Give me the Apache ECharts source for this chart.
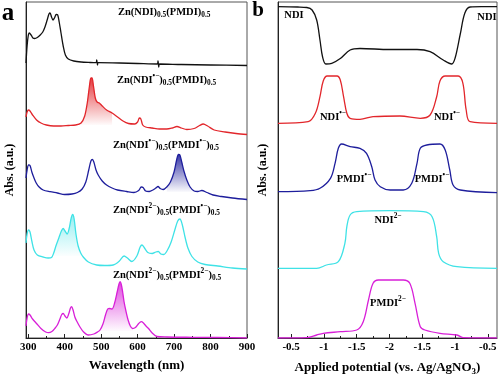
<!DOCTYPE html>
<html><head><meta charset="utf-8">
<script src="https://cdn.jsdelivr.net/npm/echarts@6/dist/echarts.min.js"></script>
<style>html,body{margin:0;padding:0;background:#fff}#c{width:500px;height:375px}</style>
</head><body><div id="c"></div>
<script>
// ---------- tick values / labels ----------
const wavelengthTicks = [300, 400, 500, 600, 700, 800, 900];
const wavelengthMinorTicks = [350, 450, 550, 650, 750, 850];
const potentialTickPos = [0, 0.5, 1, 1.5, 2, 2.5, 3];          // distance swept (V) along the cycle
const potentialTickLabels = ['-0.5', '-1', '-1.5', '-2', '-1.5', '-1', '-0.5'];
const potentialMinorTicks = [0.25, 0.75, 1.25, 1.75, 2.25, 2.75];

// ---------- panel a: stacked spectra [wavelength nm, Abs (a.u., offset)] ----------
const specNeutral = [[294,275],[297,292],[300,302],[303,305],[308,303],[313,300],[318,299.5],[325,300.5],[333,303],[340,306],[346,311],[352,318],[357,324],[360,325],[364,321],[368,318],[372,320],[377,323.5],[381,323],[385,316],[390,305],[396,292],[402,283],[410,279],[425,277],[445,276],[470,275.5],[486,275.3],[488,278],[490,273],[492,275.3],[550,275],[600,274.5],[654,274],[656,277],[658,271],[660,274],[720,273.5],[800,273],[900,272.5]];
const specNDIrad = [[294,221],[297,226],[301,228],[305,227],[312,223],[323,218],[335,215],[350,213],[370,212],[390,212],[410,212.5],[430,213],[445,215],[455,222],[462,235],[468,252],[472,260],[475,260],[479,252],[484,240],[489,236],[495,235],[503,232],[515,228],[530,225],[545,221],[560,217],[575,214.5],[592,214],[600,216],[605,220],[609,219],[614,213],[622,211],[640,210],[660,209],[680,209],[695,210],[708,211.5],[720,210],[735,208.5],[755,209.5],[770,212.5],[780,214],[792,212],[810,208],[840,206],[870,204.5],[900,203.5]];
const specBothRad = [[294,160],[297,168],[301,173],[305,172.5],[310,166],[315,161],[322,155],[330,151],[341,148],[360,146.3],[380,145],[400,143.5],[420,144],[435,145.5],[448,149],[458,156],[466,168],[472,177],[476,178.5],[480,176],[486,168],[492,163],[503,157],[515,153],[530,150],[545,148],[570,146.5],[590,145.5],[603,147.5],[610,151],[615,150.5],[622,147],[632,146.5],[642,148],[650,150],[656,151.5],[662,149.5],[670,148.5],[680,151],[690,156],[700,166],[707,178],[712,183.5],[716,183],[721,176],[727,167],[735,158],[744,151],[755,147],[765,146.5],[776,147.5],[790,145.5],[807,143],[830,141.5],[860,140],[900,138.5]];
const specNDI2PMDIrad = [[294,95],[297,104],[301,108],[305,106],[310,97],[316,88],[325,83],[341,81],[355,80],[364,80.5],[370,85],[376,92],[384,100],[391,107],[396,109.5],[401,107],[407,104],[412,109],[418,120],[422,123.5],[426,119],[431,104],[437,92],[444,85],[451,81],[465,76],[488,73],[510,72.5],[533,73],[550,77],[563,82],[572,80],[584,76.5],[598,82],[607,91],[612,93],[618,90.5],[628,85.5],[640,84.5],[650,86],[657,86.5],[664,84],[672,83.5],[682,88],[692,96],[702,108],[710,117],[716,119],[722,114],[730,101],[738,90],[749,81.5],[765,76],[785,73.5],[820,72],[860,70],[900,69]];
const specBoth2 = [[294,12],[297,20],[301,24],[305,23],[312,19],[323,14.5],[335,9.5],[348,6],[356,5.3],[365,6.5],[374,10],[380,13],[387,19],[392,23.5],[396,24.5],[401,22],[406,20],[411,24],[416,30],[419,31.3],[423,28],[428,21],[433,17],[442,11],[452,6],[465,3],[480,4],[490,6],[497,8],[505,14],[512,23],[518,29],[524,29.5],[530,29],[537,35],[544,46],[549,54],[552,56.3],[555,54],[559,46],[563,36],[568,27],[574,18],[580,12],[586,9.5],[594,10.5],[603,14.5],[610,16.3],[616,15],[623,12],[630,9.5],[640,5],[653,1.5],[680,1],[750,0.7],[820,0.5],[900,0]];

// shaded bands under characteristic peaks: [from nm, to nm, base Abs]
const bandNDIrad = [445, 530, 213];
const bandBothRad = [680, 760, 146];
const bandNDI2 = [370, 444, 82];
const bandPMDI2 = [497, 586, 7];

// ---------- panel b: absorbance vs swept potential [sweep V, Abs (a.u., offset)] ----------
const potNDI = [[-0.2,331.3],[0.1,331],[0.24,330.5],[0.32,328],[0.39,318],[0.44,298],[0.48,281],[0.53,274],[0.62,274.7],[0.75,279.5],[0.9,288],[1.05,289.5],[1.5,288.5],[1.92,288.5],[2.12,286.3],[2.32,278],[2.45,274],[2.5,279.7],[2.58,304],[2.65,325],[2.73,331],[2.9,331.3],[3.14,331.3]];
const potNDIrad = [[-0.2,214.7],[0.26,216.3],[0.37,224.7],[0.44,241.3],[0.49,257],[0.55,262],[0.7,262],[0.75,258],[0.8,241.3],[0.85,224.7],[0.9,219.7],[1.05,218.7],[1.25,221.3],[1.66,222],[1.97,219.7],[2.12,223],[2.22,241.3],[2.27,257],[2.35,262],[2.55,262],[2.62,254.7],[2.67,228],[2.73,216.3],[3.14,214.7]];
const potPMDIrad = [[-0.2,146.3],[0.29,147.3],[0.44,149.7],[0.6,159.7],[0.67,174.7],[0.72,189.7],[0.77,194],[0.9,191.3],[1.05,189.7],[1.15,184.7],[1.23,171.3],[1.28,158],[1.36,151.3],[1.51,148],[1.71,148],[1.84,154.7],[1.92,174.7],[1.97,189.7],[2.07,193],[2.27,194],[2.35,188],[2.42,168],[2.47,153],[2.58,148],[3.14,145.3]];
const potNDI2 = [[-0.2,69.7],[0.39,69.7],[0.54,73],[0.72,76.3],[0.82,94.7],[0.85,111.3],[0.9,123],[1.0,126.3],[1.51,127.3],[2.02,126.3],[2.15,121.3],[2.22,101.3],[2.25,84.7],[2.32,76.3],[2.53,71.3],[3.14,69.7]];
const potPMDI2 = [[-0.2,0],[0.24,0.3],[0.39,3],[0.49,4.7],[0.75,6.3],[1.0,8],[1.1,16.3],[1.18,38],[1.25,54.7],[1.33,58],[1.71,58],[1.81,54.7],[1.89,34.7],[1.97,11.3],[2.04,8],[2.27,4.7],[2.53,3],[2.63,0.3],[3.14,0]];

// ---------- styling ----------
const COL = { black: '#111111', red: '#e2262b', blue: '#1e1e9c', cyan: '#3fe2e6', magenta: '#d81fd8', pm: '#2424c8' };
const FF = '"Liberation Serif", "DejaVu Serif", serif';

function rgba(hex, a) {
  const n = parseInt(hex.slice(1), 16);
  return 'rgba(' + (n >> 16 & 255) + ',' + (n >> 8 & 255) + ',' + (n & 255) + ',' + a + ')';
}
function lineSeries(data, color, xi, yi, smooth) {
  return { type: 'line', xAxisIndex: xi, yAxisIndex: yi, data: data, smooth: smooth, symbol: 'none',
    lineStyle: { color: color, width: 1.3 }, z: 3, silent: true };
}
function bandSeries(data, band, color, xi, yi, alpha) {
  const part = data.filter(p => p[0] >= band[0] && p[0] <= band[1]);
  return { type: 'line', xAxisIndex: xi, yAxisIndex: yi, data: part, smooth: 0.3, symbol: 'none',
    lineStyle: { width: 0, opacity: 0 }, z: 2, silent: true,
    areaStyle: { origin: band[2], opacity: 1,
      color: new echarts.graphic.LinearGradient(0, 0, 0, 1, [
        { offset: 0, color: rgba(color, alpha) }, { offset: 1, color: rgba(color, 0.02) }]) } };
}

function richStyles(s) {
  const mk = (c) => ({ fontFamily: FF, fontWeight: 'bold', fontSize: s, color: c });
  const sub = (c) => ({ fontFamily: FF, fontWeight: 'bold', fontSize: s * 0.7, color: c, padding: [7, 0, 0, 0] });
  const sup = (c) => ({ fontFamily: FF, fontWeight: 'bold', fontSize: s * 0.7, color: c, padding: [0, 0, 7, 0] });
  return {
    t: mk('#000'), s: sub('#000'),
    r: mk(COL.red), rs: sup(COL.red),
    b: mk(COL.pm), bs: sup(COL.pm),
    k: mk('#000'),
    c: mk(COL.cyan), cs: sup(COL.cyan),
    m: mk(COL.magenta), ms: sup(COL.magenta)
  };
}
const RICH = richStyles(10.5);
function txt(text, x, y, align) {
  return { type: 'text', x: x, y: y, silent: true, z: 10,
    style: { text: text, rich: RICH, fontFamily: FF, fontWeight: 'bold', fontSize: 10.5, fill: '#000',
      textAlign: align || 'left', textVerticalAlign: 'middle' } };
}

const RAD = '\u2022\u2212', DI = '2\u2212';
const labels = [
  txt('{t|Zn(NDI)}{s|0.5}{t|(PMDI)}{s|0.5}', 118, 12),
  txt('{t|Zn(}{r|NDI}{rs|' + RAD + '}{t|)}{s|0.5}{t|(PMDI)}{s|0.5}', 117, 80),
  txt('{t|Zn(}{r|NDI}{rs|' + RAD + '}{t|)}{s|0.5}{t|(}{b|PMDI}{bs|' + RAD + '}{t|)}{s|0.5}', 113, 145),
  txt('{t|Zn(}{c|NDI}{cs|' + DI + '}{t|)}{s|0.5}{t|(}{b|PMDI}{bs|' + RAD + '}{t|)}{s|0.5}', 113, 210),
  txt('{t|Zn(}{c|NDI}{cs|' + DI + '}{t|)}{s|0.5}{t|(}{m|PMDI}{ms|' + DI + '}{t|)}{s|0.5}', 113, 275),
  txt('{k|NDI}', 294, 15, 'center'),
  txt('{k|NDI}', 487, 17, 'center'),
  txt('{r|NDI}{rs|' + RAD + '}', 333, 117, 'center'),
  txt('{r|NDI}{rs|' + RAD + '}', 447, 117, 'center'),
  txt('{b|PMDI}{bs|' + RAD + '}', 354, 179, 'center'),
  txt('{b|PMDI}{bs|' + RAD + '}', 432, 179, 'center'),
  txt('{c|NDI}{cs|' + DI + '}', 388, 220, 'center'),
  txt('{m|PMDI}{ms|' + DI + '}', 388, 303, 'center'),
  { type: 'text', x: 8, y: 14, z: 10, style: { text: 'a', fontFamily: FF, fontWeight: 'bold', fontSize: 25, fill: '#000', textAlign: 'center', textVerticalAlign: 'middle' } },
  { type: 'text', x: 258, y: 11, z: 10, style: { text: 'b', fontFamily: FF, fontWeight: 'bold', fontSize: 21, fill: '#000', textAlign: 'center', textVerticalAlign: 'middle' } }
];

const AX = '#222';
const tickLbl = { fontFamily: FF, fontWeight: 'bold', fontSize: 11, color: '#000', margin: 4 };
const nameStyle = { fontFamily: FF, fontWeight: 'bold', fontSize: 13, color: '#000' };
function xMain(grid, min, max, ticks, name, fmt) {
  return { gridIndex: grid, type: 'value', min: min, max: max, name: name, nameLocation: 'middle', nameGap: 21,
    nameTextStyle: Object.assign({}, nameStyle, { rich: { t: nameStyle, s: Object.assign({}, nameStyle, { fontSize: 9, padding: [8, 0, 0, 0] }) } }),
    axisLine: { show: true, onZero: false, lineStyle: { color: AX, width: 1 } },
    axisTick: { show: true, inside: true, length: 4, customValues: ticks, lineStyle: { color: AX } },
    axisLabel: Object.assign({ customValues: ticks, formatter: fmt }, tickLbl),
    splitLine: { show: false } };
}
function xMinor(grid, min, max, ticks) {
  return { gridIndex: grid, type: 'value', min: min, max: max, position: 'bottom',
    axisLine: { show: false, onZero: false }, axisLabel: { show: false }, splitLine: { show: false },
    axisTick: { show: true, inside: true, length: 2, customValues: ticks, lineStyle: { color: AX } } };
}
function yAx(grid, gap) {
  return { gridIndex: grid, type: 'value', min: 0, max: 336, name: 'Abs. (a.u.)', nameLocation: 'middle', nameGap: gap,
    nameTextStyle: Object.assign({}, nameStyle, { fontSize: 12 }),
    axisLine: { show: true, onZero: false, lineStyle: { color: AX } }, axisTick: { show: false }, axisLabel: { show: false },
    splitLine: { show: false } };
}
function potFmt(v) {
  for (let i = 0; i < potentialTickPos.length; i++) if (Math.abs(potentialTickPos[i] - v) < 1e-6) return potentialTickLabels[i];
  return '';
}

const chart = echarts.init(document.getElementById('c'), null, { renderer: 'canvas' });
chart.setOption({
  backgroundColor: '#fff',
  animation: false,
  grid: [
    { left: 26, top: 2, width: 221, height: 336, containLabel: false, outerBoundsMode: 'none', show: true, borderColor: '#555', borderWidth: 1, backgroundColor: 'transparent' },
    { left: 278, top: 2, width: 219, height: 336, containLabel: false, outerBoundsMode: 'none', show: true, borderColor: '#555', borderWidth: 1, backgroundColor: 'transparent' }
  ],
  xAxis: [
    xMain(0, 294, 900, wavelengthTicks, 'Wavelength (nm)', v => String(v)),
    xMinor(0, 294, 900, wavelengthMinorTicks),
    xMain(1, -0.2, 3.14, potentialTickPos, '{t|Applied potential (vs. Ag/AgNO}{s|3}{t|)}', potFmt),
    xMinor(1, -0.2, 3.14, potentialMinorTicks)
  ],
  yAxis: [yAx(0, 10), yAx(1, 9)],
  series: [
    bandSeries(specNDIrad, bandNDIrad, COL.red, 0, 0, 0.9),
    bandSeries(specBothRad, bandBothRad, COL.blue, 0, 0, 0.9),
    bandSeries(specNDI2PMDIrad, bandNDI2, COL.cyan, 0, 0, 0.55),
    bandSeries(specBoth2, bandPMDI2, COL.magenta, 0, 0, 0.8),
    lineSeries(specNeutral, COL.black, 0, 0, 0.3),
    lineSeries(specNDIrad, COL.red, 0, 0, 0.3),
    lineSeries(specBothRad, COL.blue, 0, 0, 0.3),
    lineSeries(specNDI2PMDIrad, COL.cyan, 0, 0, 0.3),
    lineSeries(specBoth2, COL.magenta, 0, 0, 0.3),
    lineSeries(potNDI, COL.black, 2, 1, 0.35),
    lineSeries(potNDIrad, COL.red, 2, 1, 0.35),
    lineSeries(potPMDIrad, COL.blue, 2, 1, 0.35),
    lineSeries(potNDI2, COL.cyan, 2, 1, 0.35),
    lineSeries(potPMDI2, COL.magenta, 2, 1, 0.35)
  ],
  graphic: labels
});
</script></body></html>
